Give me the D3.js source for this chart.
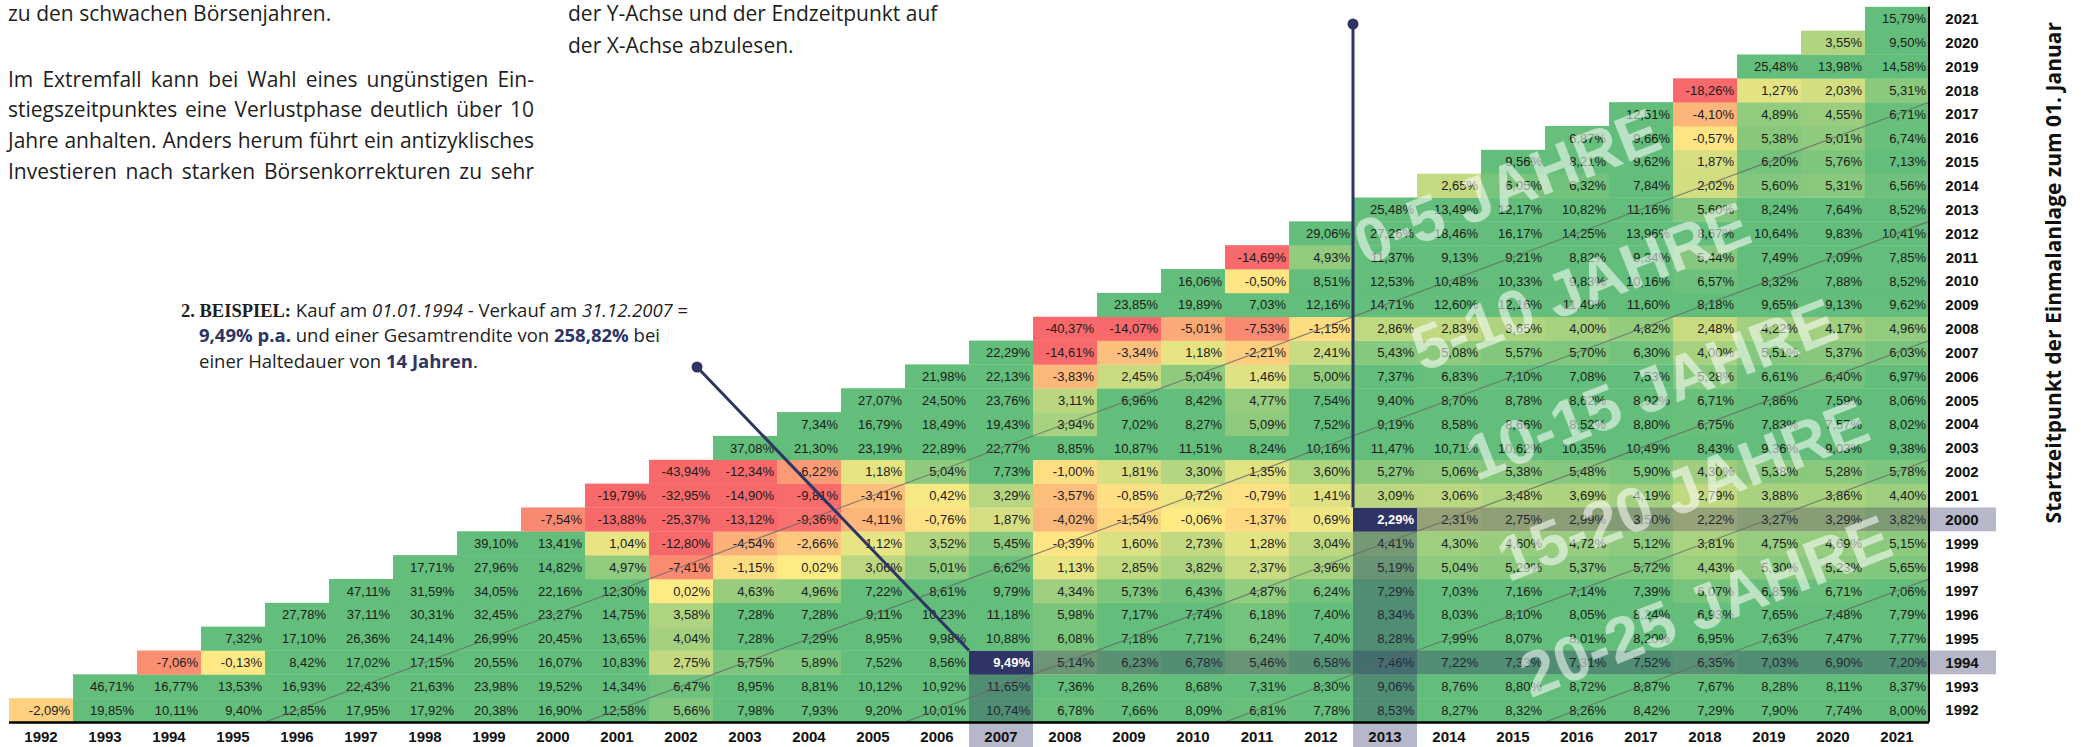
<!DOCTYPE html>
<html>
<head>
<meta charset="utf-8">
<script src="https://cdn.jsdelivr.net/npm/d3@7"></script>
<style>
  body { margin: 0; background: #fff; }
  svg { display: block; }
</style>
</head>
<body>
<div id="chart"></div>
<script>
// Jahre (X = Endzeitpunkt, Y = Startzeitpunkt)
const years = [1992, 1993, 1994, 1995, 1996, 1997, 1998, 1999, 2000, 2001,
  2002, 2003, 2004, 2005, 2006, 2007, 2008, 2009, 2010, 2011,
  2012, 2013, 2014, 2015, 2016, 2017, 2018, 2019, 2020, 2021];

// Rendite p.a. je Startjahr, beginnend beim Endjahr = Startjahr
const s1992 = [-2.09, 19.85, 10.11, 9.40, 12.85, 17.95, 17.92, 20.38, 16.90, 12.58, 5.66, 7.98, 7.93, 9.20, 10.01, 10.74, 6.78, 7.66, 8.09, 6.81, 7.78, 8.53, 8.27, 8.32, 8.26, 8.42, 7.29, 7.90, 7.74, 8.00];
const s1993 = [46.71, 16.77, 13.53, 16.93, 22.43, 21.63, 23.98, 19.52, 14.34, 6.47, 8.95, 8.81, 10.12, 10.92, 11.65, 7.36, 8.26, 8.68, 7.31, 8.30, 9.06, 8.76, 8.80, 8.72, 8.87, 7.67, 8.28, 8.11, 8.37];
const s1994 = [-7.06, -0.13, 8.42, 17.02, 17.15, 20.55, 16.07, 10.83, 2.75, 5.75, 5.89, 7.52, 8.56, 9.49, 5.14, 6.23, 6.78, 5.46, 6.58, 7.46, 7.22, 7.33, 7.31, 7.52, 6.35, 7.03, 6.90, 7.20];
const s1995 = [7.32, 17.10, 26.36, 24.14, 26.99, 20.45, 13.65, 4.04, 7.28, 7.29, 8.95, 9.98, 10.88, 6.08, 7.18, 7.71, 6.24, 7.40, 8.28, 7.99, 8.07, 8.01, 8.20, 6.95, 7.63, 7.47, 7.77];
const s1996 = [27.78, 37.11, 30.31, 32.45, 23.27, 14.75, 3.58, 7.28, 7.28, 9.11, 10.23, 11.18, 5.98, 7.17, 7.74, 6.18, 7.40, 8.34, 8.03, 8.10, 8.05, 8.24, 6.93, 7.65, 7.48, 7.79];
const s1997 = [47.11, 31.59, 34.05, 22.16, 12.30, 0.02, 4.63, 4.96, 7.22, 8.61, 9.79, 4.34, 5.73, 6.43, 4.87, 6.24, 7.29, 7.03, 7.16, 7.14, 7.39, 6.07, 6.85, 6.71, 7.06];
const s1998 = [17.71, 27.96, 14.82, 4.97, -7.41, -1.15, 0.02, 3.06, 5.01, 6.62, 1.13, 2.85, 3.82, 2.37, 3.96, 5.19, 5.04, 5.29, 5.37, 5.72, 4.43, 5.30, 5.23, 5.65];
const s1999 = [39.10, 13.41, 1.04, -12.80, -4.54, -2.66, 1.12, 3.52, 5.45, -0.39, 1.60, 2.73, 1.28, 3.04, 4.41, 4.30, 4.60, 4.72, 5.12, 3.81, 4.75, 4.69, 5.15];
const s2000 = [-7.54, -13.88, -25.37, -13.12, -9.36, -4.11, -0.76, 1.87, -4.02, -1.54, -0.06, -1.37, 0.69, 2.29, 2.31, 2.75, 2.99, 3.50, 2.22, 3.27, 3.29, 3.82];
const s2001 = [-19.79, -32.95, -14.90, -9.81, -3.41, 0.42, 3.29, -3.57, -0.85, 0.72, -0.79, 1.41, 3.09, 3.06, 3.48, 3.69, 4.19, 2.79, 3.88, 3.86, 4.40];
const s2002 = [-43.94, -12.34, -6.22, 1.18, 5.04, 7.73, -1.00, 1.81, 3.30, 1.35, 3.60, 5.27, 5.06, 5.38, 5.48, 5.90, 4.30, 5.38, 5.28, 5.78];
const s2003 = [37.08, 21.30, 23.19, 22.89, 22.77, 8.85, 10.87, 11.51, 8.24, 10.16, 11.47, 10.71, 10.62, 10.35, 10.49, 8.43, 9.36, 9.03, 9.38];
const s2004 = [7.34, 16.79, 18.49, 19.43, 3.94, 7.02, 8.27, 5.09, 7.52, 9.19, 8.58, 8.66, 8.52, 8.80, 6.75, 7.83, 7.57, 8.02];
const s2005 = [27.07, 24.50, 23.76, 3.11, 6.96, 8.42, 4.77, 7.54, 9.40, 8.70, 8.78, 8.62, 8.92, 6.71, 7.86, 7.59, 8.06];
const s2006 = [21.98, 22.13, -3.83, 2.45, 5.04, 1.46, 5.00, 7.37, 6.83, 7.10, 7.08, 7.53, 5.28, 6.61, 6.40, 6.97];
const s2007 = [22.29, -14.61, -3.34, 1.18, -2.21, 2.41, 5.43, 5.08, 5.57, 5.70, 6.30, 4.00, 5.51, 5.37, 6.03];
const s2008 = [-40.37, -14.07, -5.01, -7.53, -1.15, 2.86, 2.83, 3.65, 4.00, 4.82, 2.48, 4.22, 4.17, 4.96];
const s2009 = [23.85, 19.89, 7.03, 12.16, 14.71, 12.60, 12.16, 11.49, 11.60, 8.18, 9.65, 9.13, 9.62];
const s2010 = [16.06, -0.50, 8.51, 12.53, 10.48, 10.33, 9.83, 10.16, 6.57, 8.32, 7.88, 8.52];
const s2011 = [-14.69, 4.93, 11.37, 9.13, 9.21, 8.82, 9.34, 5.44, 7.49, 7.09, 7.85];
const s2012 = [29.06, 27.26, 18.46, 16.17, 14.25, 13.96, 8.67, 10.64, 9.83, 10.41];
const s2013 = [25.48, 13.49, 12.17, 10.82, 11.16, 5.60, 8.24, 7.64, 8.52];
const s2014 = [2.65, 6.05, 6.32, 7.84, 2.02, 5.60, 5.31, 6.56];
const s2015 = [9.56, 8.21, 9.62, 1.87, 6.20, 5.76, 7.13];
const s2016 = [6.87, 9.66, -0.57, 5.38, 5.01, 6.74];
const s2017 = [12.51, -4.10, 4.89, 4.55, 6.71];
const s2018 = [-18.26, 1.27, 2.03, 5.31];
const s2019 = [25.48, 13.98, 14.58];
const s2020 = [3.55, 9.50];
const s2021 = [15.79];

// Beispiele (Start, Ende)
const examples = [{start: 1994, end: 2007}, {start: 2000, end: 2013}];

// Haltedauer-Grenzen und Beschriftungen
const bandEdges = [5, 10, 15, 20, 25];
const bandLabels = ["0-5 JAHRE", "5-10 JAHRE", "10-15 JAHRE", "15-20 JAHRE", "20-25 JAHRE"];

// Texte
const introLines = [
  "Im Extremfall kann bei Wahl eines ungünstigen Ein-",
  "stiegszeitpunktes eine Verlustphase deutlich über 10",
  "Jahre anhalten. Anders herum führt ein antizyklisches",
  "Investieren nach starken Börsenkorrekturen zu sehr"
];

const rowsByStart = [s1992, s1993, s1994, s1995, s1996, s1997, s1998, s1999, s2000, s2001,
  s2002, s2003, s2004, s2005, s2006, s2007, s2008, s2009, s2010, s2011,
  s2012, s2013, s2014, s2015, s2016, s2017, s2018, s2019, s2020, s2021];

const cells = [];
rowsByStart.forEach((row, i) => {
  row.forEach((v, j) => cells.push({start: years[i], end: years[i + j], value: v}));
});

const W = 2081, H = 747;
const navy = "#2e3464";
const numFont = "'Liberation Sans', Arial, sans-serif";
const textFont = "'Open Sans', 'Noto Sans', sans-serif";

const svg = d3.select("#chart").append("svg")
  .attr("width", W).attr("height", H)
  .attr("viewBox", [0, 0, W, H]);

const x = d3.scaleBand().domain(years).range([9, 1929]);
const y = d3.scaleBand().domain(years.slice().reverse()).range([6.8, 722]);
const bw = x.bandwidth(), bh = y.bandwidth();

// kontinuierliche Lage (Endjahr, Startjahr) -> Pixel, fuer Beschriftungen
const xc = d3.scaleLinear().domain([1992, 2021]).range([x(1992) + bw / 2, x(2021) + bw / 2]);
const yc = d3.scaleLinear().domain([1992, 2021]).range([y(1992) + bh / 2, y(2021) + bh / 2]);

const color = d3.scaleLinear()
  .domain([-10, 0, 7])
  .range(["#f8696b", "#ffeb84", "#63be7b"])
  .clamp(true);

const fmt = d3.formatLocale({decimal: ",", thousands: ".", grouping: [3], currency: ["", "€"], minus: "-"}).format(".2f");

const isPick = d => examples.some(e => e.start === d.start && e.end === d.end);

// Zellen
const cellG = svg.append("g");
cellG.selectAll("rect")
  .data(cells)
  .join("rect")
  .attr("x", d => x(d.end))
  .attr("y", d => y(d.start))
  .attr("width", bw + 0.3)
  .attr("height", bh + 0.3)
  .attr("fill", d => isPick(d) ? navy : color(d.value));

cellG.selectAll("text")
  .data(cells)
  .join("text")
  .attr("x", d => x(d.end) + bw - 3)
  .attr("y", d => y(d.start) + bh / 2)
  .attr("dy", "0.36em")
  .attr("text-anchor", "end")
  .attr("font-family", numFont)
  .attr("font-size", 13)
  .attr("font-weight", d => isPick(d) ? "bold" : "normal")
  .attr("fill", d => isPick(d) ? "#fff" : "#1a1a1a")
  .text(d => fmt(d.value) + "%");

// Hervorhebung der Beispiele (Zeile rechts, Spalte unten, Achsenfelder)
const hl = svg.append("g").attr("fill", navy).attr("fill-opacity", 0.35);
examples.forEach(e => {
  hl.append("rect")
    .attr("x", x(e.end) + bw).attr("y", y(e.start))
    .attr("width", x(2021) - x(e.end)).attr("height", bh);
  hl.append("rect")
    .attr("x", x(e.end)).attr("y", y(e.start) + bh)
    .attr("width", bw).attr("height", 722 - y(e.start) - bh);
  hl.append("rect")
    .attr("x", x(2021) + bw).attr("y", y(e.start))
    .attr("width", 67).attr("height", bh);
  hl.append("rect")
    .attr("x", x(e.end)).attr("y", 722)
    .attr("width", bw).attr("height", H - 722);
});

// Diagonale Grenzlinien der Haltedauer
svg.append("g")
  .selectAll("line")
  .data(bandEdges)
  .join("line")
  .attr("x1", d => x(1991 + d))
  .attr("y1", y(1992) + bh)
  .attr("x2", x(2021) + bw)
  .attr("y2", d => y(2022 - d))
  .attr("stroke", "#666")
  .attr("stroke-opacity", 0.8)
  .attr("stroke-width", 1.1);

// Beschriftungen der Haltedauer (Lage als Endjahr/Startjahr)
const bandPos = [[2014.9, 2014.0], [2016.05, 2009.8], [2017.15, 2005.5], [2017.65, 2001.25], [2018.0, 1996.4]];
svg.append("g")
  .selectAll("text")
  .data(bandLabels)
  .join("text")
  .attr("transform", (d, i) => `translate(${xc(bandPos[i][0])},${yc(bandPos[i][1])}) rotate(-21.5)`)
  .attr("text-anchor", "middle")
  .attr("dy", "0.36em")
  .attr("font-family", numFont)
  .attr("font-weight", "bold")
  .attr("font-size", 63)
  .attr("fill", "#fff")
  .attr("fill-opacity", 0.55)
  .text(d => d);

// Achsenlinien
svg.append("line")
  .attr("x1", x(1992)).attr("x2", x(2021) + bw)
  .attr("y1", 722.5).attr("y2", 722.5)
  .attr("stroke", "#000").attr("stroke-width", 2.5);
svg.append("line")
  .attr("x1", x(2021) + bw).attr("x2", x(2021) + bw)
  .attr("y1", y(2021)).attr("y2", 722)
  .attr("stroke", "#000").attr("stroke-width", 2);

// X-Achse (Endjahr)
svg.append("g")
  .selectAll("text")
  .data(years)
  .join("text")
  .attr("x", d => x(d) + bw / 2)
  .attr("y", 737)
  .attr("dy", "0.36em")
  .attr("text-anchor", "middle")
  .attr("font-family", numFont)
  .attr("font-weight", "bold")
  .attr("font-size", 15)
  .attr("fill", "#111")
  .text(d => d);

// Y-Achse (Startjahr) rechts
svg.append("g")
  .selectAll("text")
  .data(years)
  .join("text")
  .attr("x", 1962)
  .attr("y", d => y(d) + bh / 2)
  .attr("dy", "0.36em")
  .attr("text-anchor", "middle")
  .attr("font-family", numFont)
  .attr("font-weight", "bold")
  .attr("font-size", 15)
  .attr("fill", "#111")
  .text(d => d);

svg.append("text")
  .attr("transform", "translate(2053,22) rotate(-90)")
  .attr("text-anchor", "end")
  .attr("dy", "0.36em")
  .attr("font-family", textFont)
  .attr("font-weight", "bold")
  .attr("font-size", 21)
  .attr("fill", "#111")
  .text("Startzeitpunkt der Einmalanlage zum 01. Januar");

// Verbindungslinien der Beispiele
const ann = svg.append("g");
ann.append("line")
  .attr("x1", 697).attr("y1", 367)
  .attr("x2", x(2007)).attr("y2", y(1994))
  .attr("stroke", navy).attr("stroke-width", 3);
ann.append("circle").attr("cx", 697).attr("cy", 367).attr("r", 5.5).attr("fill", navy);
ann.append("line")
  .attr("x1", x(2013)).attr("y1", 24)
  .attr("x2", x(2013)).attr("y2", y(2000))
  .attr("stroke", navy).attr("stroke-width", 3);
ann.append("circle").attr("cx", x(2013)).attr("cy", 24).attr("r", 5.5).attr("fill", navy);

// Fliesstext oben links
const txt = svg.append("g")
  .attr("font-family", textFont)
  .attr("font-size", 21)
  .attr("fill", "#1e1e1e");

txt.append("text").attr("x", 8).attr("y", 13).attr("dy", "0.36em")
  .text("zu den schwachen Börsenjahren.");

function justify(line, x0, yy, width) {
  const words = line.split(" ");
  const nodes = words.map(w => txt.append("text").attr("y", yy).attr("dy", "0.36em").text(w));
  const widths = nodes.map(n => n.node().getComputedTextLength());
  const gap = (width - d3.sum(widths)) / (words.length - 1);
  let cx = x0;
  nodes.forEach((n, i) => { n.attr("x", cx); cx += widths[i] + gap; });
}
introLines.forEach((l, i) => justify(l, 8, 79 + i * 30.8, 526));

txt.append("text").attr("x", 568).attr("y", 13).attr("dy", "0.36em")
  .text("der Y-Achse und der Endzeitpunkt auf");
txt.append("text").attr("x", 568).attr("y", 45).attr("dy", "0.36em")
  .text("der X-Achse abzulesen.");

// Beispieltext
const ex = svg.append("g")
  .attr("font-family", textFont)
  .attr("font-size", 18.5)
  .attr("fill", "#1e1e1e")
  .style("white-space", "pre");

const l1 = ex.append("text").attr("x", 181).attr("y", 310).attr("dy", "0.36em");
l1.append("tspan").attr("font-family", "'Liberation Serif', 'DejaVu Serif', serif").attr("font-weight", "bold").text("2. BEISPIEL:");
l1.append("tspan").text(" Kauf am ");
l1.append("tspan").attr("font-style", "italic").text("01.01.1994");
l1.append("tspan").text(" - Verkauf am ");
l1.append("tspan").attr("font-style", "italic").text("31.12.2007");
l1.append("tspan").text(" =");

const l2 = ex.append("text").attr("x", 199).attr("y", 335).attr("dy", "0.36em");
l2.append("tspan").attr("font-weight", "bold").attr("fill", navy).text("9,49% p.a.");
l2.append("tspan").text(" und einer Gesamtrendite von ");
l2.append("tspan").attr("font-weight", "bold").attr("fill", navy).text("258,82%");
l2.append("tspan").text(" bei");

const l3 = ex.append("text").attr("x", 199).attr("y", 361).attr("dy", "0.36em");
l3.append("tspan").text("einer Haltedauer von ");
l3.append("tspan").attr("font-weight", "bold").attr("fill", navy).text("14 Jahren");
l3.append("tspan").text(".");
</script>
</body>
</html>
